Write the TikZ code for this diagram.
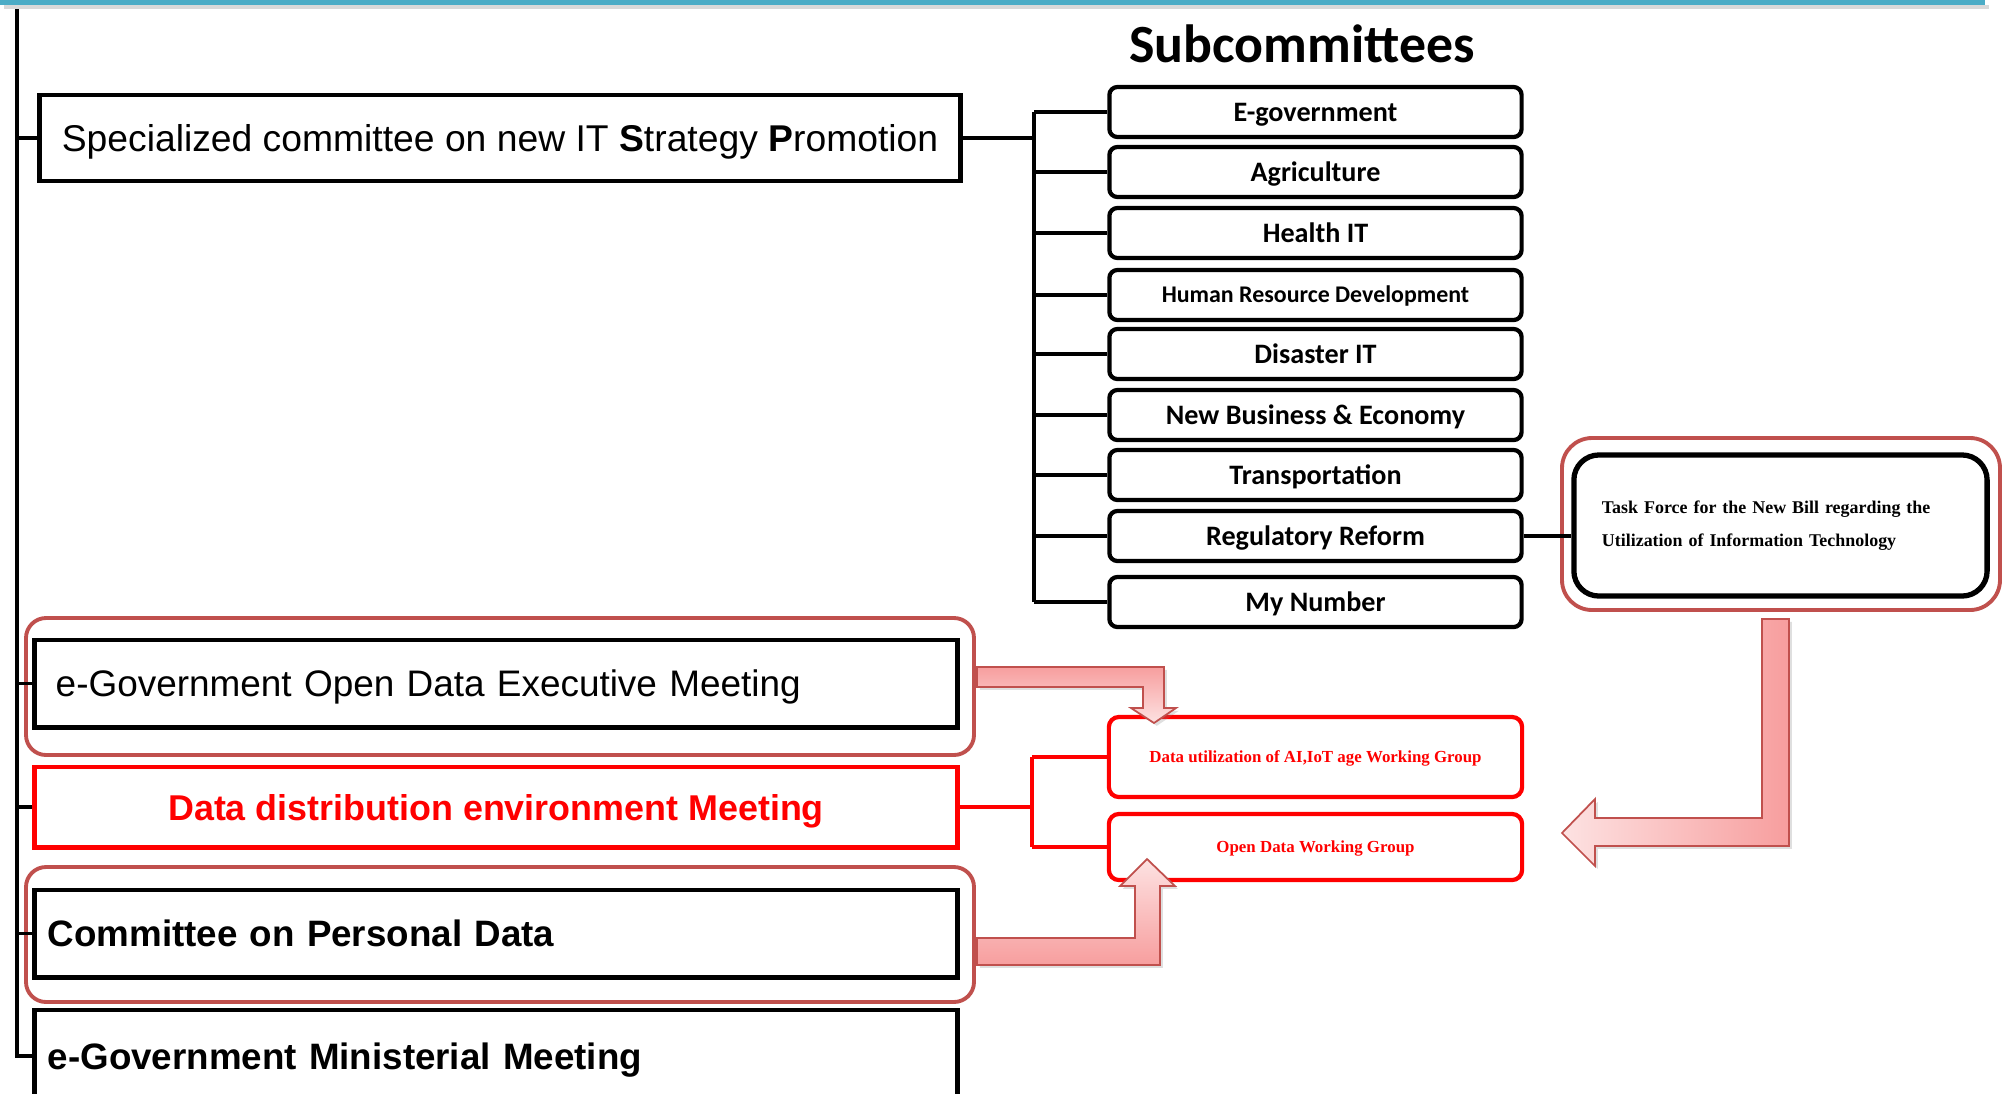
\documentclass[tikz,border=0pt]{standalone}
\usepackage{fontspec}
\setmainfont{Liberation Sans}
\newfontfamily\calibrifont{Carlito}
\newfontfamily\timesfont{Liberation Serif}
\usetikzlibrary{shadows}

\definecolor{topblue}{RGB}{75,172,198}
\definecolor{framered}{RGB}{192,80,77}
\definecolor{pinkdark}{RGB}{247,158,158}
\definecolor{pinklight}{RGB}{253,226,226}

\tikzset{
  conn/.style={line width=1pt, black},
  redconn/.style={line width=1pt, red},
  bigbox/.style={draw=black, line width=1.4pt, fill=white, minimum width=9.22cm, inner ysep=0pt, text height=7.5pt, text depth=0pt},
  subbox/.style={draw=black, line width=1.2pt, fill=white, rounded corners=0.08cm, minimum width=4.12cm, minimum height=0.5cm, text height=5.2pt, text depth=0pt, font=\calibrifont\bfseries\fontsize{8}{9}\selectfont},
  wgbox/.style={draw=red, line width=1.2pt, fill=white, rounded corners=0.1cm, minimum width=4.13cm, text height=3.2pt, text depth=0pt, text=red, font=\timesfont\bfseries\fontsize{4.8}{6}\selectfont},
  redframe/.style={draw=framered, line width=1.1pt, rounded corners=0.2cm},
  bigarrow/.style={draw=framered, line width=0.5pt, drop shadow={opacity=0.25, shadow xshift=0.8pt, shadow yshift=-0.8pt}},
}

\begin{document}
\begin{tikzpicture}[x=0.01cm, y=-0.01cm]
\useasboundingbox (0,0) rectangle (2002,1093);
\clip (0,0) rectangle (2002,1093);

% frames round the meetings
\draw[redframe] (26,618) rectangle (974,755);
\draw[redframe] (26,867) rectangle (974,1002);
\draw[redframe, rounded corners=0.3cm] (1562,438) rectangle (2000,610);

% left column
\node[bigbox, minimum width=9.2cm, minimum height=0.86cm, font=\fontsize{10.6}{12}\selectfont] (spec) at (500,138) {Specialized committee on new IT \textbf{S}trategy \textbf{P}romotion};
\node[bigbox, minimum height=0.87cm, text width=8.80cm, inner xsep=0.21cm, align=left, font=\fontsize{10.5}{12}\selectfont] (odexec) at (496,683.5) {e-Government Open Data Executive Meeting};
\node[bigbox, draw=red, minimum height=0.8cm, text=red, font=\bfseries\fontsize{10.2}{12}\selectfont] (ddem) at (496,807) {Data distribution environment Meeting};
\node[bigbox, minimum height=0.87cm, text width=8.96cm, inner xsep=0.13cm, align=left, font=\bfseries\fontsize{10.45}{12}\selectfont] (personal) at (496,933.5) {Committee on Personal Data};
\node[bigbox, minimum height=0.92cm, text width=8.96cm, inner xsep=0.13cm, align=left, font=\bfseries\fontsize{10.45}{12}\selectfont] (minist) at (496,1056) {e-Government Ministerial Meeting};

% subcommittees
\node[font=\calibrifont\bfseries\fontsize{15.3}{18}\selectfont] (subtitle) at (1302,44) {Subcommittees};
\node[subbox] (egov) at (1315.5,112) {E-government};
\node[subbox] (agri) at (1315.5,172) {Agriculture};
\node[subbox] (health) at (1315.5,233) {Health IT};
\node[subbox, font=\calibrifont\bfseries\fontsize{6.8}{8}\selectfont, text height=4.4pt] (hrd) at (1315.5,295) {Human Resource Development};
\node[subbox] (disaster) at (1315.5,354) {Disaster IT};
\node[subbox] (business) at (1315.5,415) {New Business \& Economy};
\node[subbox] (transport) at (1315.5,475) {Transportation};
\node[subbox] (regref) at (1315.5,536) {Regulatory Reform};
\node[subbox] (mynumber) at (1315.5,602) {My Number};

\node[draw=black, line width=1.5pt, fill=white, rounded corners=0.25cm, text width=3.57cm, inner xsep=0.28cm, minimum height=1.41cm, align=left, font=\timesfont\bfseries\fontsize{5.1}{9.4}\selectfont] (taskforce) at (1780.5,525.5) {Task Force for the New Bill regarding the\\Utilization of Information Technology};

% working groups
\node[wgbox, minimum height=0.8cm] (wg1) at (1315.5,757) {Data utilization of AI,IoT age Working Group};
\node[wgbox, minimum height=0.66cm] (wg2) at (1315.5,847) {Open Data Working Group};

% trunk
\coordinate (trunktop) at (17,0);
\draw[conn] (trunktop) |- (minist.west);
\draw[conn] (trunktop |- spec.west) -- (spec.west)
  (trunktop |- odexec.west) -- (odexec.west)
  (trunktop |- ddem.west) -- (ddem.west)
  (trunktop |- personal.west) -- (personal.west);

% subcommittee bus
\coordinate (bus) at (1034,138);
\draw[conn] (spec.east) -- (bus);
\draw[conn] (bus |- egov.west) -- (bus |- mynumber.west);
\draw[conn] (bus |- egov.west) -- (egov.west)
  (bus |- agri.west) -- (agri.west)
  (bus |- health.west) -- (health.west)
  (bus |- hrd.west) -- (hrd.west)
  (bus |- disaster.west) -- (disaster.west)
  (bus |- business.west) -- (business.west)
  (bus |- transport.west) -- (transport.west)
  (bus |- regref.west) -- (regref.west)
  (bus |- mynumber.west) -- (mynumber.west);
\draw[conn, line width=1.2pt] (regref.east) -- (regref.east -| taskforce.west);

% working group bus
\coordinate (redbus) at (1032,807);
\draw[redconn] (ddem.east) -- (redbus);
\draw[redconn] (redbus |- wg1.west) -- (redbus |- wg2.west);
\draw[redconn] (redbus |- wg1.west) -- (wg1.west)
  (redbus |- wg2.west) -- (wg2.west);

% block arrows
\draw[bigarrow, top color=pinkdark, bottom color=pinklight] (977,667) -- (1164,667) -- (1164,708) -- (1176,708) -- (1154,723) -- (1131,708) -- (1143,708) -- (1143,687) -- (977,687) -- cycle;
\draw[bigarrow, top color=pinklight, bottom color=pinkdark] (977,938) -- (1135,938) -- (1135,886) -- (1120,886) -- (1147,859) -- (1175,886) -- (1160,886) -- (1160,965) -- (977,965) -- cycle;
\draw[bigarrow, left color=pinklight, right color=pinkdark] (1762,619) -- (1789,619) -- (1789,846) -- (1595,846) -- (1595,866) -- (1562,833) -- (1595,799) -- (1595,818) -- (1762,818) -- cycle;

% top rule
\fill[black!15] (4,5) rectangle (1989,9);
\fill[topblue] (0,0) rectangle (1985,5);
\end{tikzpicture}
\end{document}
